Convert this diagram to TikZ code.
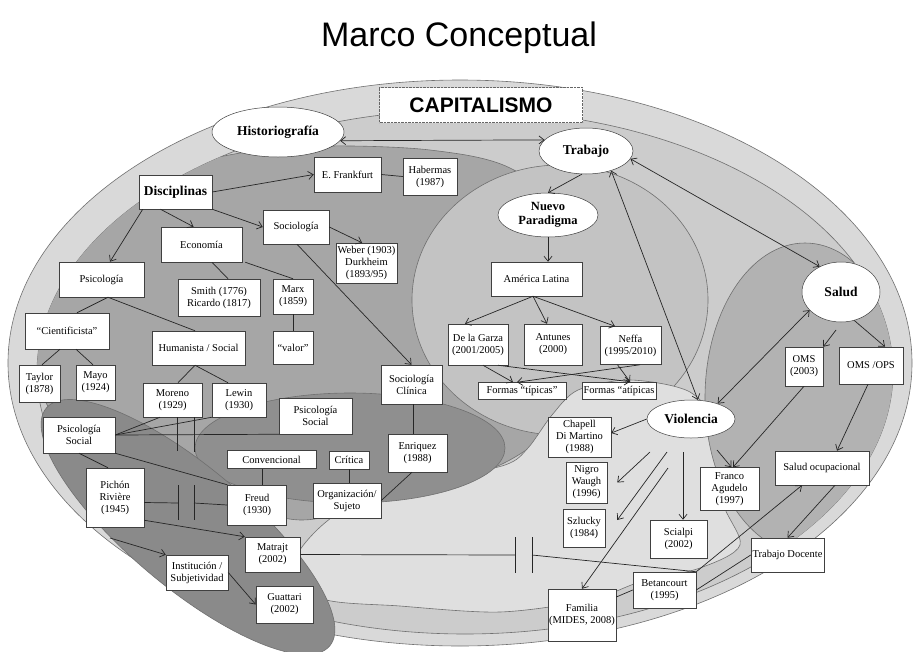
\documentclass[tikz,border=0pt]{standalone}
\usepackage{fontspec}
\setmainfont{Liberation Serif}
\newfontfamily\titlefont{Liberation Sans}
\usetikzlibrary{shapes.geometric,arrows.meta}
\newcommand{\bxfont}{\fontsize{10.5}{12}\selectfont}
\newcommand{\ovfont}{\fontsize{13.5}{15}\selectfont\bfseries}
\definecolor{cA}{HTML}{D9D9D9}
\definecolor{cB}{HTML}{CCCCCC}
\definecolor{cC}{HTML}{A6A6A6}
\definecolor{cD}{HTML}{C3C3C3}
\definecolor{cE}{HTML}{DFDFDF}
\definecolor{cF}{HTML}{B2B2B2}
\definecolor{cG}{HTML}{8F8F8F}
\definecolor{cH}{HTML}{8A8A8A}
\definecolor{edge}{HTML}{707070}
\begin{document}
\begin{tikzpicture}[x=1pt,y=-1pt,
  bx/.style={draw=black!75, fill=white, line width=0.5pt, inner sep=1pt, align=center, font=\bxfont},
  oval/.style={ellipse, draw=black!75, fill=white, line width=0.5pt, inner sep=0pt, align=center, font=\ovfont},
  ln/.style={draw=black!85, line width=0.7pt},
  arr/.style={ln, -{Straight Barb[length=5pt,width=8pt]}},
  darr/.style={ln, {Straight Barb[length=5pt,width=8pt]}-{Straight Barb[length=5pt,width=8pt]}},
  region/.style={draw=edge, line width=0.6pt}]
\useasboundingbox (0,0) rectangle (916,651);
\fill[white] (0,0) rectangle (916,651);

% ---------- background regions ----------
\filldraw[region, fill=cA] (460,363) ellipse [x radius=452pt, y radius=283pt];
\filldraw[region, fill=cB] (465,372) ellipse [x radius=428pt, y radius=262pt];
\begin{scope}
  \clip (465,372) ellipse [x radius=428pt, y radius=262pt];
  \filldraw[region, fill=cC] plot[smooth cycle] coordinates {(36,340) (70,250) (143,180) (240,153) (330,146) (430,150) (510,168) (590,230) (600,340) (560,420) (500,465) (400,495) (300,520) (200,490) (110,455) (50,410)};
\end{scope}
\filldraw[region, fill=cD] (560,300) ellipse [x radius=148pt, y radius=135pt];
\filldraw[region, fill=cE] plot[smooth cycle] coordinates {(295,560) (340,512) (430,482) (505,465) (528,448) (552,415) (578,390) (630,380) (690,392) (718,430) (722,500) (740,545) (700,568) (640,582) (590,600) (500,612) (400,606) (320,598)};
\begin{scope}
  \clip (465,372) ellipse [x radius=428pt, y radius=262pt];
  \filldraw[region, fill=cF] (805,398) ellipse [x radius=100pt, y radius=155pt];
\end{scope}
\filldraw[region, fill=cG] (350,448) ellipse [x radius=155pt, y radius=55pt];
\filldraw[region, fill=cH, rotate around={-40:(188,527)}] (188,527) ellipse [x radius=185pt, y radius=60pt];

% ---------- title ----------
\node (title) at (459,38) {\titlefont\fontsize{34}{40}\selectfont Marco Conceptual};
\node[draw=black!60, densely dotted, fill=white, minimum width=203pt, minimum height=35pt, inner sep=0pt] (capi) at (481,105) {\titlefont\bfseries\fontsize{21}{24}\selectfont CAPITALISMO};

% ---------- ovals ----------
\node[oval, minimum width=132pt, minimum height=50pt] (hist) at (278,132) {Historiografía};
\node[oval, minimum width=94pt, minimum height=46pt] (trab) at (586,151) {Trabajo};
\node[oval, minimum width=100pt, minimum height=44pt, font=\fontsize{12.5}{14}\selectfont\bfseries] (nuevo) at (548,215) {Nuevo\\Paradigma};
\node[oval, minimum width=78pt, minimum height=60pt] (salud) at (841,292) {Salud};
\node[oval, minimum width=88pt, minimum height=38pt] (viol) at (691,419) {Violencia};

% ---------- boxes ----------
\node[bx, minimum width=73pt, minimum height=34pt, font=\ovfont] (disc) at (175.5,192) {Disciplinas};
\node[bx, minimum width=67pt, minimum height=35pt] (frank) at (347.5,174.5) {E. Frankfurt};
\node[bx, minimum width=54pt, minimum height=37pt] (haber) at (430,176.5) {Habermas\\(1987)};
\node[bx, minimum width=66pt, minimum height=34pt] (socio) at (296,227) {Sociología};
\node[bx, minimum width=61pt, minimum height=40pt, font=\fontsize{10.5}{12}\selectfont] (weber) at (366.5,263) {Weber (1903)\\Durkheim\\(1893/95)};
\node[bx, minimum width=81pt, minimum height=35pt] (econ) at (201.5,244.5) {Economía};
\node[bx, minimum width=85pt, minimum height=35pt] (psico) at (101.5,279.5) {Psicología};
\node[bx, minimum width=82pt, minimum height=37pt] (smith) at (219,297.5) {Smith (1776)\\Ricardo (1817)};
\node[bx, minimum width=40pt, minimum height=35pt] (marx) at (293,296.5) {Marx\\(1859)};
\node[bx, minimum width=40pt, minimum height=33pt] (valor) at (293,347.5) {“valor”};
\node[bx, minimum width=84pt, minimum height=36pt] (cient) at (67,331) {“Cientificista”};
\node[bx, minimum width=93pt, minimum height=34pt] (human) at (198.5,348) {Humanista / Social};
\node[bx, minimum width=41pt, minimum height=37pt] (taylor) at (39.5,383.5) {Taylor\\(1878)};
\node[bx, minimum width=39pt, minimum height=35pt] (mayo) at (95.5,382.5) {Mayo\\(1924)};
\node[bx, minimum width=59pt, minimum height=34pt] (moreno) at (172.5,400) {Moreno\\(1929)};
\node[bx, minimum width=54pt, minimum height=34pt] (lewin) at (239,400) {Lewin\\(1930)};
\node[bx, minimum width=73pt, minimum height=36pt] (psc) at (315.5,416) {Psicología\\Social};
\node[bx, minimum width=72pt, minimum height=36pt] (psl) at (79,435) {Psicología\\Social};
\node[bx, minimum width=89pt, minimum height=18pt] (conv) at (271.5,459.5) {Convencional};
\node[bx, minimum width=40pt, minimum height=18pt] (crit) at (349,460) {Crítica};
\node[bx, minimum width=59pt, minimum height=40pt] (freud) at (257,505) {Freud\\(1930)};
\node[bx, minimum width=68pt, minimum height=35pt] (org) at (347,500.5) {Organización/\\Sujeto};
\node[bx, minimum width=61pt, minimum height=39pt] (sclin) at (411.5,384.5) {Sociología\\Clínica};
\node[bx, minimum width=59pt, minimum height=38pt] (enr) at (417.5,453) {Enriquez\\(1988)};
\node[bx, minimum width=58pt, minimum height=59pt] (pich) at (115,497.5) {Pichón\\Rivière\\(1945)};
\node[bx, minimum width=55pt, minimum height=35pt] (matr) at (272.5,554.5) {Matrajt\\(2002)};
\node[bx, minimum width=62pt, minimum height=35pt] (inst) at (197,572.5) {Institución /\\Subjetividad};
\node[bx, minimum width=57pt, minimum height=37pt] (guat) at (284.5,604.5) {Guattari\\(2002)};
\node[bx, minimum width=91pt, minimum height=34pt] (amer) at (536.5,279) {América Latina};
\node[bx, minimum width=60pt, minimum height=41pt] (garza) at (478,344.5) {De la Garza\\(2001/2005)};
\node[bx, minimum width=58pt, minimum height=41pt] (antu) at (553,344.5) {Antunes\\(2000)};
\node[bx, minimum width=61pt, minimum height=38pt] (neffa) at (630.5,345.5) {Neffa\\(1995/2010)};
\node[bx, minimum width=88pt, minimum height=17pt] (ftip) at (522,391) {Formas “típicas”};
\node[bx, minimum width=74pt, minimum height=17pt] (fatip) at (619,390.5) {Formas “atípicas};
\node[bx, minimum width=63pt, minimum height=40pt] (chap) at (579.5,437) {Chapell\\Di Martino\\(1988)};
\node[bx, minimum width=41pt, minimum height=41pt] (nigro) at (586.5,482.5) {Nigro\\Waugh\\(1996)};
\node[bx, minimum width=42pt, minimum height=38pt] (szl) at (584,528) {Szlucky\\(1984)};
\node[bx, minimum width=68pt, minimum height=52pt] (fam) at (582,615) {Familia\\(MIDES, 2008)};
\node[bx, minimum width=57pt, minimum height=38pt] (scial) at (678.5,539) {Scialpi\\(2002)};
\node[bx, minimum width=59pt, minimum height=43pt] (franco) at (729.5,489) {Franco\\Agudelo\\(1997)};
\node[bx, minimum width=63pt, minimum height=36pt] (betan) at (664.5,590) {Betancourt\\(1995)};
\node[bx, minimum width=73pt, minimum height=34pt] (tdoc) at (787.5,555) {Trabajo Docente};
\node[bx, minimum width=94pt, minimum height=34pt] (socup) at (822,468) {Salud ocupacional};
\node[bx, minimum width=38pt, minimum height=39pt] (oms) at (804,366.5) {OMS\\(2003)};
\node[bx, minimum width=64pt, minimum height=37pt] (omsops) at (871,365.5) {OMS /OPS};

% ---------- free points ----------
\coordinate (v1) at (650,452);
\coordinate (v2) at (667,452);
\coordinate (v3) at (668,468);
\coordinate (v4) at (683,452);
\coordinate (v5) at (717,450);
\coordinate (s1) at (836,330);
\coordinate (p1) at (110,538);
\coordinate (c1) at (178,503);
\coordinate (c2) at (194,503);
\coordinate (c3) at (515,555);
\coordinate (c4) at (532,555);

% ---------- connectors ----------
\draw[darr] (hist.-8) -- (trab.165);
\draw[arr] (disc.east) -- (frank.west);
\draw[arr] (disc.south east) -- (socio.west);
\draw[arr] ([xshift=-15pt]disc.south) -- ([xshift=-8pt]econ.north);
\draw[arr] ([xshift=4pt]disc.south west) -- ([xshift=8.5pt]psico.north);
\draw[ln] (frank.east) -- (haber.west);
\draw[arr] (socio.east) -- ([xshift=-4.5pt]weber.north);
\draw[arr] ([xshift=1pt]socio.south) -- (sclin.north);
\draw[ln] ([xshift=10.5pt]econ.south) -- ([xshift=9pt]smith.north);
\draw[ln] ([xshift=3pt]econ.south east) -- (marx.north);
\draw[ln] (marx.south) -- (valor.north);
\draw[ln] ([xshift=6.5pt]psico.south) -- ([xshift=10pt]cient.north);
\draw[ln] ([xshift=6.5pt]psico.south) -- ([xshift=-3.5pt]human.north);
\draw[ln] ([xshift=-7pt]cient.south) -- ([xshift=2.5pt]taylor.north);
\draw[ln] ([xshift=9pt]cient.south) -- ([xshift=-2.5pt]mayo.north);
\draw[ln] ([xshift=-3.5pt]human.south) -- ([xshift=5.5pt]moreno.north);
\draw[ln] ([xshift=-3.5pt]human.south) -- ([xshift=-11pt]lewin.north);
\draw[ln] (psl.east) -- ([xshift=-12.5pt]moreno.south);
\draw[ln] (psl.east) -- (lewin.south west);
\draw[ln] (psl.east) -- (psc.south west);
\draw[ln] ([xshift=4.5pt]moreno.south) -- ++(0,34);
\draw[ln] ([xshift=21.5pt]moreno.south) -- ++(0,35);
\draw[ln] (psl.south) -- ([xshift=-7pt]pich.north);
\draw[ln] (psl.south east) -- (freud.north west);
\draw[ln] ([xshift=-9.5pt]conv.south) -- ([xshift=5pt]freud.north);
\draw[ln] (crit.south) -- ([xshift=2pt]org.north);
\draw[ln] ([xshift=1.5pt]sclin.south) -- ([xshift=-4.5pt]enr.north);
\draw[ln] ([xshift=-5.5pt]enr.south) -- (org.east);
\draw[ln] ([yshift=-5pt]pich.east) -- (c1);
\draw[ln] (c2) -- (freud.west);
\draw[ln] (c1) ++(0,-18) -- ++(0,35);
\draw[ln] (c2) ++(0,-18) -- ++(0,35);
\draw[arr] ([yshift=7pt]pich.south east) -- (matr.north west);
\draw[arr] (p1) -- (inst.north west);
\draw[arr] (inst.east) -- (guat.west);
\draw[ln] (matr.east) -- (c3);
\draw[ln] (c4) -- (betan.north east);
\draw[ln] (c3) ++(0,-18) -- ++(0,36);
\draw[ln] (c4) ++(0,-18) -- ++(0,36);
\draw[arr] (betan.north east) -- ([xshift=-20pt]socup.south);
\draw[ln] (betan.east) -- (tdoc.west);
\draw[ln] (betan.west) -- ([yshift=18pt]fam.east);
\draw[arr] ([xshift=13pt]socup.south) -- (tdoc.north);
\draw[arr] ([xshift=-3pt]omsops.south) -- ([xshift=15pt]socup.north);
\draw[arr] (oms.south) -- ([xshift=3.5pt]franco.north);
\draw[arr] (v5) -- ([xshift=2pt]franco.north);
\draw[arr] (s1) -- (oms.north east);
\draw[arr] (salud.-65) -- ([xshift=14pt]omsops.north);
\draw[darr] (viol.30) -- (salud.210);
\draw[darr] (trab.-10) -- (salud.130);
\draw[darr] (trab.-38) -- (viol.70);
\draw[arr] (trab.-100) -- (nuevo.north);
\draw[arr] (nuevo.south) -- (nuevo.south |- amer.north);
\draw[arr] ([xshift=-3.5pt]amer.south) -- ([xshift=-13pt]garza.north);
\draw[arr] ([xshift=-3.5pt]amer.south) -- ([xshift=-6pt]antu.north);
\draw[arr] ([xshift=-3.5pt]amer.south) -- ([xshift=-15.5pt]neffa.north);
\draw[arr] ([xshift=5pt]garza.south) -- ([xshift=-9pt]ftip.north);
\draw[arr] ([xshift=20pt]garza.south) -- ([xshift=11pt]fatip.north);
\draw[arr] ([xshift=9.5pt]neffa.south) -- ([xshift=-5pt]ftip.north);
\draw[arr] ([xshift=-13pt]neffa.south) -- ([xshift=11pt]fatip.north);
\draw[arr] (viol.west) -- ([yshift=4pt]chap.east);
\draw[arr] (v1) -- ([xshift=10pt]nigro.east);
\draw[arr] (v2) -- ([xshift=12pt,yshift=8pt]szl.east);
\draw[arr] (v3) -- (fam.north);
\draw[arr] (v4) -- ([xshift=4.5pt]scial.north);
\end{tikzpicture}
\end{document}
